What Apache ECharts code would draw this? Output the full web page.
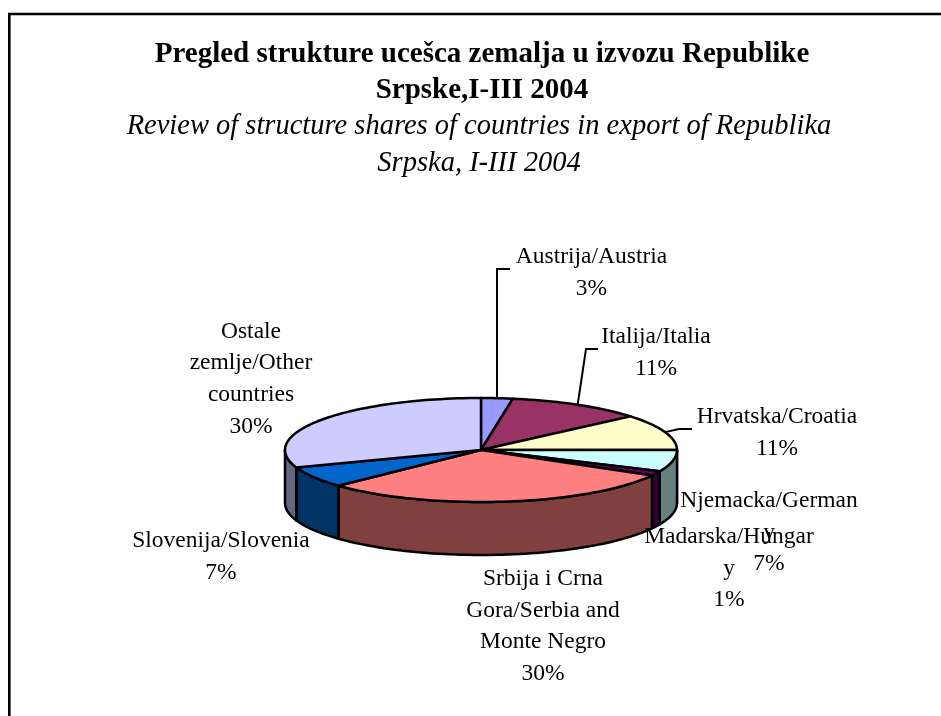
<!DOCTYPE html>
<html>
<head>
<meta charset="utf-8">
<style>
  html, body { margin: 0; padding: 0; background: #fff; }
  #main { width: 941px; height: 716px; }
</style>
<script src="https://cdn.jsdelivr.net/npm/echarts@6/dist/echarts.min.js"></script>
</head>
<body>
<div id="main"></div>
<script>
var titleBold = 'Pregled strukture ucešca zemalja u izvozu Republike\nSrpske,I-III 2004'
var titleItalic = 'Review of structure shares of countries in export of Republika\nSrpska, I-III 2004'

var categories = [
  'Austrija/Austria',
  'Italija/Italia',
  'Hrvatska/Croatia',
  'Njemacka/German\ny',
  'Madarska/Hungar\ny',
  'Srbija i Crna\nGora/Serbia and\nMonte Negro',
  'Slovenija/Slovenia',
  'Ostale\nzemlje/Other\ncountries'
]
// shares, they round to the printed percentages
var shares = [2.6, 11.2, 11.2, 6.7, 1.4, 29.8, 6.6, 30.4]
var topColors = ['#9999ff', '#993366', '#ffffcc', '#ccffff', '#660066', '#ff8080', '#0066cc', '#ccccff']
var sideColors = ['#4d4d80', '#4d1a33', '#808066', '#668080', '#330033', '#804040', '#003366', '#666680']

// layout of the pie, in pixels
var cx = 481, cy = 450, rx = 196, ry = 52, depth = 53
var labelCenters = [[591.5, 241], [656, 321], [777, 401], [769, 485], [729, 521], [543, 563], [221, 525], [251, 315.5]]
var lineHeight = 31.7
// elbow and end of the leader lines, only the slices that have one
var leaders = { 0: [[497, 269], [510, 269]], 1: [[586, 349], [598, 349]], 2: [[679, 429], [692, 429]] }

var total = shares.reduce(function (a, b) { return a + b }, 0)
var starts = []
var run = 0
shares.forEach(function (v) {
  starts.push(run / total * Math.PI * 2)
  run += v
})

// angle is clockwise from the top of the pie
function rim (a, drop) {
  return [cx + rx * Math.sin(a), cy - ry * Math.cos(a) + (drop || 0)]
}

function arc (a0, a1, drop) {
  var n = Math.max(2, Math.ceil((a1 - a0) / 0.03))
  var pts = []
  for (var i = 0; i <= n; i++) pts.push(rim(a0 + (a1 - a0) * i / n, drop))
  return pts
}

function sliceRange (i) {
  return [starts[i], starts[i] + shares[i] / total * Math.PI * 2]
}

function renderWall (params, api) {
  var r = sliceRange(params.dataIndex)
  var a0 = Math.max(r[0], Math.PI / 2)
  var a1 = Math.min(r[1], Math.PI * 1.5)
  if (a1 <= a0) return { type: 'group', children: [] }
  var pts = arc(a0, a1, 0).concat(arc(a0, a1, depth).reverse())
  return {
    type: 'polygon',
    shape: { points: pts },
    style: { fill: sideColors[params.dataIndex], stroke: '#000', lineWidth: 2.5, lineJoin: 'round' }
  }
}

function renderTop (params, api) {
  var r = sliceRange(params.dataIndex)
  var pts = [[cx, cy]].concat(arc(r[0], r[1], 0))
  return {
    type: 'polygon',
    shape: { points: pts },
    style: { fill: topColors[params.dataIndex], stroke: '#000', lineWidth: 2.5, lineJoin: 'round' }
  }
}

function renderLabel (params, api) {
  var i = params.dataIndex
  var children = [{
    type: 'text',
    style: {
      x: labelCenters[i][0],
      y: labelCenters[i][1],
      text: categories[i] + '\n' + Math.round(shares[i]) + '%',
      fill: '#000',
      font: '23.5px "Liberation Serif"',
      lineHeight: lineHeight,
      align: 'center',
      verticalAlign: 'top'
    }
  }]
  if (leaders[i]) {
    var r = sliceRange(i)
    children.push({
      type: 'polyline',
      shape: { points: [rim((r[0] + r[1]) / 2)].concat(leaders[i]) },
      style: { fill: null, stroke: '#000', lineWidth: 2 }
    })
  }
  return { type: 'group', children: children }
}

var chart = echarts.init(document.getElementById('main'), null, { renderer: 'canvas' })
chart.setOption({
  animation: false,
  backgroundColor: '#fff',
  title: [
    {
      text: titleBold,
      left: 477,
      top: 32,
      textAlign: 'center',
      textStyle: { fontFamily: 'Liberation Serif', fontSize: 29, fontWeight: 'bold', color: '#000', lineHeight: 36 }
    },
    {
      text: titleItalic,
      left: 474,
      top: 103,
      textAlign: 'center',
      textStyle: { fontFamily: 'Liberation Serif', fontSize: 28.5, fontStyle: 'italic', fontWeight: 'normal', color: '#000', lineHeight: 37 }
    }
  ],
  graphic: [{
    // the frame only shows on the left and the top, it runs off the page otherwise
    type: 'polyline',
    shape: { points: [[9.3, 716], [9.3, 14], [941, 14]] },
    style: { fill: null, stroke: '#000', lineWidth: 2.6 }
  }],
  series: [
    { type: 'custom', coordinateSystem: 'none', renderItem: renderWall, data: shares, silent: true, z: 2 },
    { type: 'custom', coordinateSystem: 'none', renderItem: renderTop, data: shares, silent: true, z: 3 },
    { type: 'custom', coordinateSystem: 'none', renderItem: renderLabel, data: shares, silent: true, z: 4 }
  ]
})
</script>
</body>
</html>
